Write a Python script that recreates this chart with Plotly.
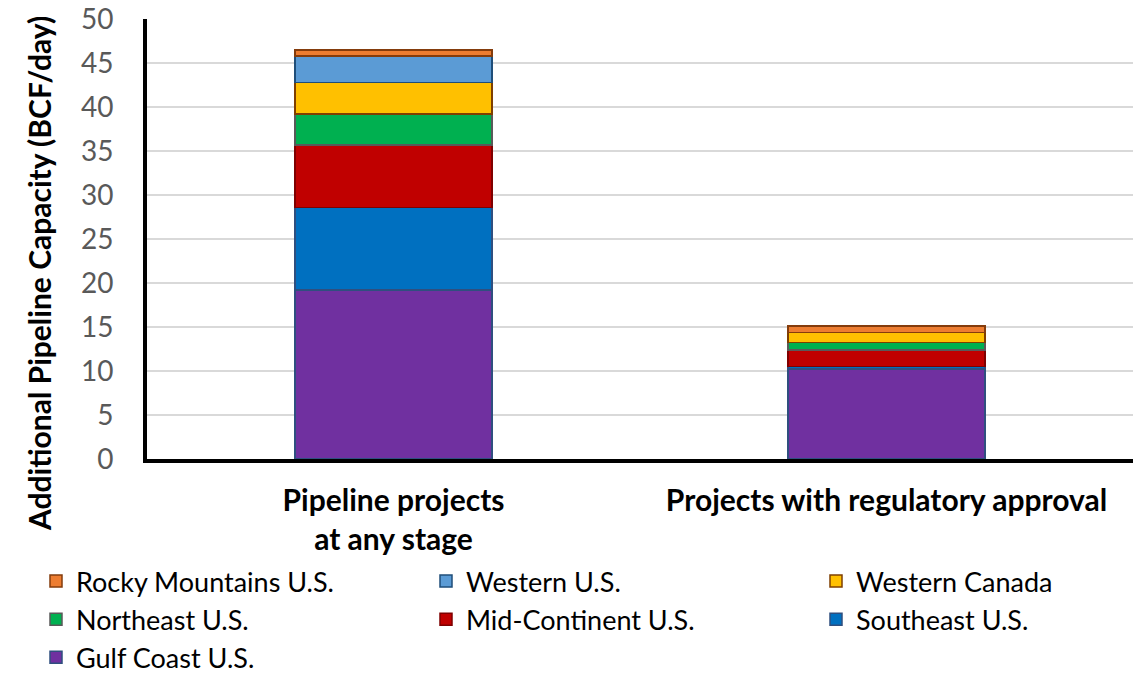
import plotly.graph_objects as go

categories = ["Pipeline projects<br>at any stage", "Projects with regulatory approval"]
series_names = ["Gulf Coast U.S.", "Southeast U.S.", "Mid-Continent U.S.", "Northeast U.S.",
                "Western Canada", "Western U.S.", "Rocky Mountains U.S."]
gulf_coast = [19.2, 10.2]
southeast = [9.4, 0.3]
mid_continent = [7.1, 1.9]
northeast = [3.5, 0.85]
western_canada = [3.6, 1.15]
western_us = [3.0, 0.0]
rocky_mountains = [0.7, 0.7]
y_ticks = [0, 5, 10, 15, 20, 25, 30, 35, 40, 45, 50]
y_title = "Additional Pipeline Capacity (BCF/day)"

series_values = [gulf_coast, southeast, mid_continent, northeast, western_canada, western_us, rocky_mountains]
fill_colors = ["#7030A0", "#0070C0", "#C00000", "#00B050", "#FFC000", "#5B9BD5", "#ED7D31"]
edge_colors = ["#2F4F7F", "#2F4F7F", "#7F0000", "#595959", "#7F3F00", "#1F4E79", "#843C0C"]
# legend column assignment and row rank (matches reference layout)
legend_ids = ["legend", "legend3", "legend2", "legend", "legend3", "legend2", "legend"]
legend_rank = [3, 2, 2, 2, 1, 1, 1]

FONT = "Lato"
# the page body adds an 8px offset, so the figure is 8px smaller than the window
W, H = 1134, 668
L, R, T, B = 139, 9, 11, 217
PW, PH = W - L - R, H - T - B
fig = go.Figure()
for name, vals, fc, ec, lid, rk in zip(series_names, series_values, fill_colors, edge_colors,
                                       legend_ids, legend_rank):
    fig.add_trace(go.Bar(
        x=categories, y=vals, name=name, legend=lid, legendrank=rk,
        marker=dict(color=fc, line=dict(color=ec, width=1.5)),
    ))

legend_font = dict(family=FONT, size=27, color="black")
def leg(xpx, ypx):
    return dict(orientation="v", traceorder="normal",
                x=(xpx - L) / PW, xanchor="left",
                y=(H - B - ypx) / PH, yanchor="top",
                font=legend_font, bgcolor="rgba(0,0,0,0)")

fig.update_layout(
    barmode="stack",
    bargap=0.6,
    width=W, height=H,
    margin=dict(l=L, r=R, t=T, b=B, autoexpand=False),
    plot_bgcolor="white", paper_bgcolor="white",
    font=dict(family=FONT, size=24, color="black"),
    showlegend=True,
    legend=leg(28, 549),
    legend2=leg(418, 549),
    legend3=leg(808, 549),
    xaxis=dict(
        showline=True, linecolor="black", linewidth=4,
        tickfont=dict(family=FONT, size=30, color="black", weight="bold"),
        ticks="", ticklabelstandoff=12, automargin=False,
        ticklabeloverflow="allow",
    ),
    yaxis=dict(
        range=[0, 50], tickvals=y_ticks,
        showline=True, linecolor="black", linewidth=4,
        showgrid=True, gridcolor="#D9D9D9", gridwidth=1.5,
        tickfont=dict(family=FONT, size=28, color="#595959"),
        ticks="", ticklabelstandoff=24, automargin=False,
        ticklabeloverflow="allow",
        zeroline=False,
    ),
    annotations=[dict(
        text="<b>" + y_title + "</b>", textangle=-90,
        xref="paper", yref="paper",
        x=(31 - L) / PW, y=(H - B - 266) / PH,
        xanchor="center", yanchor="middle", showarrow=False,
        font=dict(family=FONT, size=30, color="black"),
    )],
)

fig.write_html("out.html")
